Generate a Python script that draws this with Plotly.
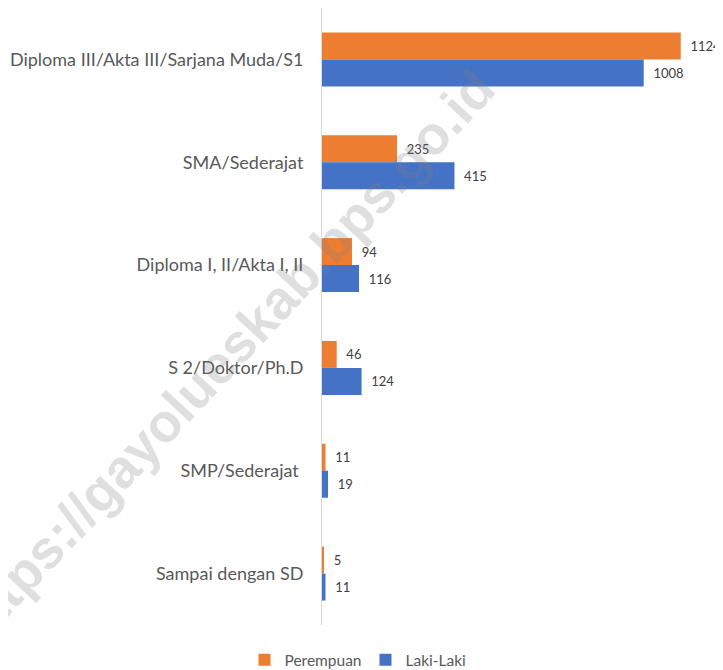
import plotly.graph_objects as go

categories = [
    "Diploma III/Akta III/Sarjana Muda/S1",
    "SMA/Sederajat",
    "Diploma I, II/Akta I, II",
    "S 2/Doktor/Ph.D",
    "SMP/Sederajat ",
    "Sampai dengan SD",
]
perempuan = [1124, 235, 94, 46, 11, 5]
laki_laki = [1008, 415, 116, 124, 19, 11]
series_names = ["Perempuan", "Laki-Laki"]
watermark = "https://gayolueskab.bps.go.id"

FONT = "Lato, 'Open Sans', sans-serif"
PAD = "\u00a0\u00a0"

fig = go.Figure()
fig.add_trace(go.Bar(
    y=categories, x=perempuan, name=series_names[0], orientation="h",
    marker=dict(color="#ED7D31", line=dict(width=0)),
    texttemplate=PAD + "%{x}", textposition="outside", cliponaxis=False,
    constraintext="none",
    textfont=dict(family=FONT, size=13, color="#404040"),
))
fig.add_trace(go.Bar(
    y=categories, x=laki_laki, name=series_names[1], orientation="h",
    marker=dict(color="#4472C4", line=dict(width=0)),
    texttemplate=PAD + "%{x}", textposition="outside", cliponaxis=False,
    constraintext="none",
    textfont=dict(family=FONT, size=13, color="#404040"),
))

fig.update_layout(
    width=715, height=662,
    margin=dict(l=314, r=18, t=0, b=45, autoexpand=False),
    paper_bgcolor="white", plot_bgcolor="white",
    barmode="group", bargap=0.475, bargroupgap=0,
    font=dict(family=FONT, color="#595959"),
    xaxis=dict(range=[0, 1200], showgrid=False, zeroline=False,
               showticklabels=False, showline=False, fixedrange=True,
               automargin=False),
    yaxis=dict(autorange="reversed", showgrid=False, zeroline=False,
               showline=True, linecolor="#d9d9d9", linewidth=1,
               ticks="", ticklabelstandoff=14, automargin=False,
               tickfont=dict(family=FONT, size=18, color="#595959")),
    legend=dict(orientation="h", xref="container", yref="container",
                x=0.5, xanchor="center", y=0.015, yanchor="middle",
                font=dict(family=FONT, size=15.5, color="#595959"),
                itemwidth=30, entrywidth=76, traceorder="normal"),
    showlegend=True,
)

fig.add_annotation(
    text=watermark, xref="paper", yref="paper",
    x=-0.256, y=0.435, xanchor="center", yanchor="middle",
    textangle=-47, showarrow=False,
    font=dict(family="Liberation Sans, Arial, sans-serif", size=54,
              color="rgba(128,128,128,0.25)", weight="bold"),
)

fig.write_html("out.html")
